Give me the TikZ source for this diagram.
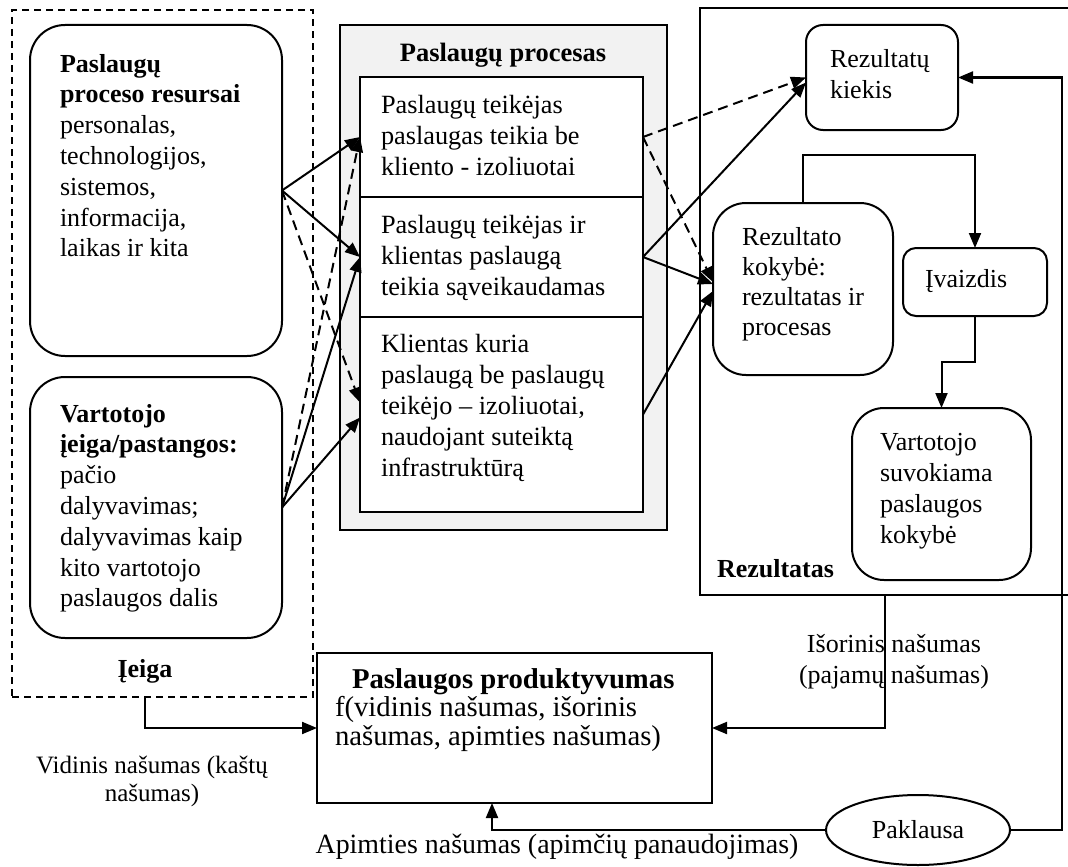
\documentclass[tikz,border=0pt]{standalone}
\usepackage{fontspec}
\setmainfont{Liberation Serif}
\usetikzlibrary{arrows.meta,shapes.geometric,calc}
\begin{document}
\begin{tikzpicture}[x=1pt,y=-1pt,
  every node/.style={inner sep=0pt, outer sep=0pt},
  lw/.style={line width=2pt},
  rbox/.style={draw, lw, fill=white, rounded corners=#1},
  sbox/.style={draw, lw, fill=white},
  % multi-line texts are placed by the baseline of their last line
  txt/.style={anchor=base west, align=left, font=\fontsize{26}{30.8}\selectfont},
  ctxt/.style={anchor=base, align=center, font=\fontsize{26}{30.8}\selectfont},
  arr/.style={lw, -{Triangle[length=15pt,width=12pt]}},
  darr/.style={arr, dash pattern=on 10pt off 6pt},
]
\useasboundingbox (0,0) rectangle (1068,867);
\clip (0,0) rectangle (1068,867);

% frames of the three parts
\node[draw, line width=1.5pt, dash pattern=on 7pt off 5pt, minimum width=301pt, minimum height=687pt] (inframe) at (162.5,353.5) {};
\node[draw, lw, minimum width=380pt, minimum height=587pt] (outframe) at (890,301.5) {};
\node[draw, lw, fill={rgb,255:red,242;green,242;blue,242}, minimum width=327pt, minimum height=505pt] (procframe) at (503.5,277.5) {};

% input boxes
\node[rbox=35pt, minimum width=252pt, minimum height=331pt] (res) at (156,190.5) {};
\node[rbox=35pt, minimum width=252pt, minimum height=261pt] (cons) at (156,507.5) {};

% process rows
\node[sbox, minimum width=283pt, minimum height=120pt] (row1) at (501.5,137) {};
\node[sbox, minimum width=283pt, minimum height=120pt] (row2) at (501.5,257) {};
\node[sbox, minimum width=283pt, minimum height=195pt] (row3) at (501.5,414.5) {};

% result boxes
\node[rbox=17pt, minimum width=152pt, minimum height=105pt] (kiekis) at (882,77.5) {};
\node[rbox=33pt, minimum width=180pt, minimum height=172pt] (kokybe) at (803,289) {};
\node[rbox=13pt, minimum width=144pt, minimum height=68pt] (ivaizdis) at (975,282) {};
\node[rbox=32pt, minimum width=179pt, minimum height=172pt] (suvok) at (941.5,494) {};

% productivity and demand
\node[sbox, minimum width=395pt, minimum height=150pt] (prod) at (514.5,728) {};
\node[draw, lw, fill=white, ellipse, minimum width=184pt, minimum height=70pt] (paklausa) at (918,830) {};

% free ends of connectors
\coordinate (inout) at (145,697);
\coordinate (resout) at (885,595);
\coordinate (fbcorner) at (1062,830);

% inputs to process
\draw[arr] (res.east) -- (row1.west);
\draw[arr] (res.east) -- (row2.west);
\draw[darr] (res.east) -- ([yshift=12pt]row3.west);
\draw[darr] (cons.east) -- (row1.west);
\draw[arr] (cons.east) -- (row2.west);
\draw[arr] (cons.east) -- ([yshift=-3pt]row3.west);

% process to results
\draw[darr] (row1.east) -- (kiekis.west);
\draw[darr] (row1.east) -- ([yshift=7pt]kokybe.west);
\draw[arr] (row2.east) -- ([yshift=-5pt]kiekis.west);
\draw[arr] (row2.east) -- ([yshift=5pt]kokybe.west);
\draw[arr] (row3.east) -- ([yshift=-2pt]kokybe.west);

% within the results
\draw[arr] (kokybe.north) -- ++(0,-48) -| (ivaizdis.north);
\draw[arr] (ivaizdis.south) -- ++(0,46) -| (suvok.north);

% productivity links
\draw[arr] (inout) |- (prod.west);
\draw[arr] (resout) |- (prod.east);
\draw[arr] (paklausa.west) -| ([xshift=-22.5pt]prod.south);
\draw[arr] (paklausa.east) -- (fbcorner) |- (kiekis.east);

% texts
\node[txt] (restxt) at (60,256.8) {\textbf{Paslaugų}\\\textbf{proceso resursai}\\personalas,\\technologijos,\\sistemos,\\informacija,\\laikas ir kita};
\node[txt] (constxt) at (60,606.8) {\textbf{Vartotojo}\\\textbf{įeiga/pastangos:}\\pačio\\dalyvavimas;\\dalyvavimas kaip\\kito vartotojo\\paslaugos dalis};
\node[ctxt, font=\fontsize{26}{30.8}\selectfont\bfseries] (intitle) at (145,677) {Įeiga};

\node[ctxt, font=\fontsize{26.5}{30.8}\selectfont\bfseries] (proctitle) at (503,62) {Paslaugų procesas};
\node[txt, font=\fontsize{26.3}{31}\selectfont] (row1txt) at (381,175) {Paslaugų teikėjas\\paslaugas teikia be\\kliento - izoliuotai};
\node[txt, font=\fontsize{26.3}{31}\selectfont] (row2txt) at (381,295) {Paslaugų teikėjas ir\\klientas paslaugą\\teikia sąveikaudamas};
\node[txt, font=\fontsize{26.3}{30.8}\selectfont] (row3txt) at (381,476) {Klientas kuria\\paslaugą be paslaugų\\teikėjo – izoliuotai,\\naudojant suteiktą\\infrastruktūrą};

\node[txt, font=\fontsize{26}{31}\selectfont] (kiekistxt) at (830,98) {Rezultatų\\kiekis};
\node[txt, font=\fontsize{26}{29.7}\selectfont] (kokybetxt) at (742,335) {Rezultato\\kokybė:\\rezultatas ir\\procesas};
\node[txt] (ivaizdistxt) at (925,287) {Įvaizdis};
\node[txt, font=\fontsize{26}{31}\selectfont] (suvoktxt) at (880,543) {Vartotojo\\suvokiama\\paslaugos\\kokybė};
\node[txt, font=\fontsize{26}{30.8}\selectfont\bfseries] (outtitle) at (717,577) {Rezultatas};

\node[txt, font=\fontsize{28.7}{28.5}\selectfont] (prodtxt) at (335,745) {\hspace*{17pt}\textbf{Paslaugos produktyvumas}\\f(vidinis našumas, išorinis\\našumas, apimties našumas)};
\node[font=\fontsize{26}{30.8}\selectfont] (paktxt) at (paklausa.center) {Paklausa};

\node[ctxt, font=\fontsize{25}{28}\selectfont] (vidlbl) at (152,801) {Vidinis našumas (kaštų\\našumas)};
\node[ctxt, font=\fontsize{26}{31}\selectfont] (isorlbl) at (894,683) {Išorinis našumas\\(pajamų našumas)};
\node[ctxt, font=\fontsize{27.9}{31}\selectfont] (apimlbl) at (557,853) {Apimties našumas (apimčių panaudojimas)};
\end{tikzpicture}
\end{document}
